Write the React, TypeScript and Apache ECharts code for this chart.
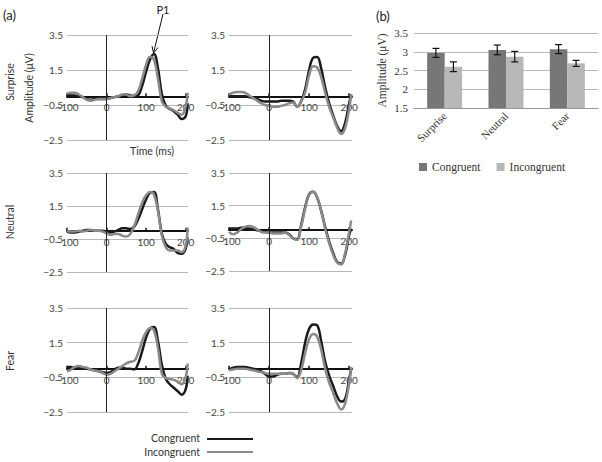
import React, { useEffect, useRef } from 'react';
import * as echarts from 'echarts';

// ---- Data ----
const TIMES = [-100, -90, -80, -70, -60, -50, -40, -30, -20, -10, 0, 10, 20, 30, 40, 50, 60, 70, 80, 90, 100, 110, 120, 130, 140, 150, 160, 170, 180, 190, 200, 205];

const surpriseLeftC = [0.1, 0.05, 0.05, 0.0, -0.05, -0.15, -0.2, -0.15, -0.15, -0.15, -0.15, -0.1, -0.05, 0.0, 0.05, 0.1, 0.05, 0.0, 0.05, 0.6, 1.4, 2.1, 2.42, 1.6, 0.1, -0.55, -0.72, -0.85, -1.05, -1.3, -1.15, -0.4];
const surpriseLeftI = [0.15, 0.2, 0.2, 0.1, -0.05, -0.2, -0.25, -0.2, -0.15, -0.15, -0.15, -0.1, -0.05, 0.0, 0.1, 0.1, 0.0, 0.05, 0.3, 1.0, 1.8, 2.25, 2.1, 1.0, -0.3, -0.6, -0.7, -0.8, -0.95, -1.05, -0.6, 0.2];
const surpriseRightC = [0.0, 0.0, 0.0, 0.0, 0.0, -0.05, -0.1, -0.15, -0.25, -0.3, -0.3, -0.3, -0.3, -0.25, -0.25, -0.25, -0.3, -0.6, -0.3, 0.4, 1.5, 2.2, 2.25, 1.6, 0.5, -0.4, -1.1, -1.7, -2.0, -1.5, -0.4, 0.1];
const surpriseRightI = [0.1, 0.2, 0.25, 0.25, 0.2, 0.05, -0.1, -0.25, -0.4, -0.5, -0.55, -0.6, -0.6, -0.55, -0.5, -0.4, -0.35, -0.6, -0.3, 0.2, 1.2, 1.72, 1.65, 1.1, 0.2, -0.6, -1.2, -1.8, -2.15, -1.8, -0.7, 0.1];
const neutralLeftC = [-0.05, -0.1, -0.1, -0.05, 0.0, 0.05, 0.05, 0.0, 0.0, 0.0, -0.05, -0.1, -0.05, 0.05, 0.15, 0.15, 0.1, 0.25, 0.7, 1.3, 1.9, 2.3, 2.35, 1.3, -0.2, -0.8, -1.0, -1.1, -1.35, -1.4, -1.1, -0.4];
const neutralLeftI = [0.0, -0.05, -0.05, 0.0, -0.05, 0.0, 0.05, 0.0, 0.0, -0.05, -0.15, -0.25, -0.2, -0.2, -0.3, -0.35, -0.2, 0.3, 1.0, 1.7, 2.15, 2.35, 2.2, 1.2, -0.3, -1.0, -1.2, -1.2, -1.2, -1.3, -0.9, 0.2];
const neutralRightC = [0.1, 0.1, 0.1, 0.15, 0.15, 0.1, 0.05, 0.0, -0.05, -0.1, -0.15, -0.15, -0.15, -0.15, -0.15, -0.25, -0.5, -0.55, 0.3, 1.4, 2.2, 2.35, 2.0, 1.2, 0.2, -0.7, -1.4, -1.95, -2.05, -1.5, -0.3, 0.1];
const neutralRightI = [-0.1, -0.25, -0.15, 0.05, 0.2, 0.25, 0.2, 0.05, -0.1, -0.15, -0.15, -0.2, -0.2, -0.2, -0.15, -0.3, -0.5, -0.6, 0.2, 1.3, 2.15, 2.35, 2.0, 1.2, 0.1, -0.8, -1.5, -2.0, -2.1, -1.4, -0.1, 0.6];
const fearLeftC = [0.1, 0.1, 0.05, 0.05, 0.0, 0.0, -0.05, -0.1, -0.15, -0.2, -0.25, -0.2, -0.05, 0.05, 0.05, 0.0, 0.0, -0.05, 0.3, 1.0, 1.8, 2.3, 2.4, 1.6, 0.2, -0.6, -0.9, -1.1, -1.3, -1.5, -1.2, -0.4];
const fearLeftI = [-0.15, -0.05, 0.1, 0.15, 0.1, 0.05, -0.05, -0.1, -0.15, -0.25, -0.35, -0.3, -0.15, 0.0, 0.15, 0.3, 0.4, 0.45, 0.9, 1.6, 2.1, 2.35, 2.2, 1.2, -0.3, -0.55, -0.6, -0.65, -0.75, -0.9, -0.5, 0.3];
const fearRightC = [-0.05, 0.05, 0.1, 0.1, 0.1, 0.05, 0.0, -0.05, -0.15, -0.3, -0.45, -0.45, -0.35, -0.3, -0.3, -0.25, -0.3, -0.5, 0.3, 1.5, 2.3, 2.55, 2.5, 1.6, 0.4, -0.4, -1.0, -1.6, -1.9, -1.75, -0.6, 0.0];
const fearRightI = [-0.1, -0.05, 0.0, 0.0, 0.0, -0.05, -0.1, -0.15, -0.2, -0.25, -0.3, -0.3, -0.3, -0.3, -0.3, -0.25, -0.3, -0.55, -0.1, 0.9, 1.7, 2.0, 1.85, 1.1, 0.0, -0.8, -1.4, -2.0, -2.35, -2.0, -0.8, 0.1];

const ERP_Y_TICKS = [-2.5, -0.5, 1.5, 3.5];
const ERP_X_TICKS = [-100, 0, 100, 200];
const ROW_LABELS = ['Surprise', 'Neutral', 'Fear'];

const BAR_CATEGORIES = ['Surprise', 'Neutral', 'Fear'];
const BAR_CONGRUENT = [2.97, 3.05, 3.07];
const BAR_INCONGRUENT = [2.6, 2.87, 2.69];
const ERR_CONGRUENT = [0.12, 0.13, 0.12];
const ERR_INCONGRUENT = [0.13, 0.14, 0.08];
const LEGEND_NAMES = ['Congruent', 'Incongruent'];

const SANS = 'Lato, "Open Sans", "Noto Sans", sans-serif';
const SERIF = '"Liberation Serif", "DejaVu Serif", serif';

const BLACK = '#1a1a1a';
const GRAY = '#8a8a8a';
const BAR_DARK = '#777777';
const BAR_LIGHT = '#b7b7b7';

const Y_MIN = ERP_Y_TICKS[0];
const Y_MAX = ERP_Y_TICKS[ERP_Y_TICKS.length - 1];

const fmt = (v: number) => String(v).replace('-', '\u2212');

export default function App() {
  const ref = useRef<HTMLDivElement>(null);

  useEffect(() => {
    if (!ref.current) return;
    const chart = echarts.init(ref.current, undefined, { renderer: 'svg' });

    const panels = [
      { C: surpriseLeftC, I: surpriseLeftI, left: 67, top: 35, width: 121, height: 105, max: 206 },
      { C: surpriseRightC, I: surpriseRightI, left: 229, top: 35, width: 123, height: 105, max: 207 },
      { C: neutralLeftC, I: neutralLeftI, left: 67, top: 173, width: 121, height: 99, max: 206 },
      { C: neutralRightC, I: neutralRightI, left: 229, top: 173, width: 123, height: 98, max: 207 },
      { C: fearLeftC, I: fearLeftI, left: 67, top: 308, width: 121, height: 104, max: 206 },
      { C: fearRightC, I: fearRightI, left: 229, top: 308, width: 123, height: 104, max: 207 },
    ];

    const grids: any[] = panels.map((p) => ({ left: p.left, top: p.top, width: p.width, height: p.height }));
    grids.push({ left: 414, top: 33, width: 184, height: 75 });

    const xAxes: any[] = panels.map((p, i) => ({
      type: 'value',
      gridIndex: i,
      min: -100,
      max: p.max,
      interval: 100,
      // place the axis (line, ticks, labels) at amplitude 0
      offset: -(p.height * (0 - Y_MIN)) / (Y_MAX - Y_MIN),
      axisLine: { show: true, onZero: false, lineStyle: { color: '#111', width: 2 } },
      axisTick: { show: true, inside: true, length: 3, customValues: ERP_X_TICKS, lineStyle: { color: '#111', width: 1.5 } },
      axisLabel: {
        customValues: ERP_X_TICKS,
        fontFamily: SANS,
        fontSize: 10,
        color: '#444',
        margin: 6,
        formatter: (v: number) => (v % 100 === 0 ? fmt(v) : ''),
      },
      splitLine: { show: false },
    }));
    xAxes.push({
      type: 'category',
      gridIndex: 6,
      data: BAR_CATEGORIES,
      axisLine: { lineStyle: { color: '#999', width: 1 } },
      axisTick: { show: false },
      axisLabel: { rotate: 45, fontFamily: SERIF, fontSize: 11, color: '#333', margin: 6 },
    });

    const yAxes: any[] = panels.map((_, i) => ({
      type: 'value',
      gridIndex: i,
      min: Y_MIN,
      max: Y_MAX,
      interval: 2,
      axisLine: { show: false, onZero: false },
      axisTick: { show: false },
      splitLine: { lineStyle: { color: '#b8b8b8', width: 1 } },
      axisLabel: { fontFamily: SANS, fontSize: 10, color: '#444', margin: 4, formatter: (v: number) => fmt(v) },
    }));
    yAxes.push({
      type: 'value',
      gridIndex: 6,
      min: 1.5,
      max: 3.5,
      interval: 0.5,
      axisLine: { show: false },
      axisTick: { show: false },
      splitLine: { lineStyle: { color: '#b8b8b8', width: 1 } },
      axisLabel: { fontFamily: SERIF, fontSize: 11, color: '#333', margin: 6 },
      name: 'Amplitude (\u03bcV)',
      nameLocation: 'middle',
      nameGap: 26,
      nameTextStyle: { fontFamily: SERIF, fontSize: 11.5, color: '#333' },
    });

    const series: any[] = [];
    const barW = 17.5;
    series.push({
      name: 'Congruent',
      type: 'bar',
      xAxisIndex: 6,
      yAxisIndex: 6,
      data: BAR_CONGRUENT,
      barWidth: barW,
      barGap: '0%',
      itemStyle: { color: BAR_DARK },
    });
    series.push({
      name: 'Incongruent',
      type: 'bar',
      xAxisIndex: 6,
      yAxisIndex: 6,
      data: BAR_INCONGRUENT,
      barWidth: barW,
      barGap: '0%',
      itemStyle: { color: BAR_LIGHT },
    });
    const errSeries = (vals: number[], errs: number[], offset: number) => ({
      type: 'custom',
      xAxisIndex: 6,
      yAxisIndex: 6,
      z: 5,
      silent: true,
      data: vals.map((v, k) => [k, v, errs[k]]),
      renderItem: (_params: any, api: any) => {
        const k = api.value(0);
        const v = api.value(1);
        const e = api.value(2);
        const hi = api.coord([k, v + e]);
        const lo = api.coord([k, v - e]);
        const cx = hi[0] + offset;
        const cap = 3.5;
        const style = { stroke: '#111', lineWidth: 1.2 };
        return {
          type: 'group',
          children: [
            { type: 'line', shape: { x1: cx, y1: hi[1], x2: cx, y2: lo[1] }, style },
            { type: 'line', shape: { x1: cx - cap, y1: hi[1], x2: cx + cap, y2: hi[1] }, style },
            { type: 'line', shape: { x1: cx - cap, y1: lo[1], x2: cx + cap, y2: lo[1] }, style },
          ],
        };
      },
    });
    series.push(errSeries(BAR_CONGRUENT, ERR_CONGRUENT, -barW / 2));
    series.push(errSeries(BAR_INCONGRUENT, ERR_INCONGRUENT, barW / 2));

    panels.forEach((p, i) => {
      series.push({
        name: `${ROW_LABELS[Math.floor(i / 2)]} congruent ${i % 2}`,
        type: 'line',
        xAxisIndex: i,
        yAxisIndex: i,
        data: TIMES.map((t, k) => [t, p.C[k]]),
        showSymbol: false,
        symbol: 'none',
        smooth: 0.4,
        z: 3,
        lineStyle: { color: BLACK, width: 2.5 },
        markLine: {
          silent: true,
          symbol: ['none', 'none'],
          label: { show: false },
          lineStyle: { color: '#222', width: 1, type: 'solid' },
          data: [{ xAxis: 0 }],
        },
      });
      series.push({
        name: `${ROW_LABELS[Math.floor(i / 2)]} incongruent ${i % 2}`,
        type: 'line',
        xAxisIndex: i,
        yAxisIndex: i,
        data: TIMES.map((t, k) => [t, p.I[k]]),
        showSymbol: false,
        symbol: 'none',
        smooth: 0.4,
        z: 4,
        lineStyle: { color: GRAY, width: 2.5 },
      });
    });

    // P1 arrow geometry (annotation)
    const tail = [163, 14];
    const tip = [153.5, 53];
    const dx = tail[0] - tip[0];
    const dy = tail[1] - tip[1];
    const len = Math.hypot(dx, dy);
    const ux = dx / len;
    const uy = dy / len;
    const ah = 7;
    const ang = 0.45;
    const rot = (a: number) => [
      tip[0] + ah * (ux * Math.cos(a) - uy * Math.sin(a)),
      tip[1] + ah * (ux * Math.sin(a) + uy * Math.cos(a)),
    ];
    const h1 = rot(ang);
    const h2 = rot(-ang);

    const rowCenters = [82, 222, 361];

    const graphic: any[] = [
      { type: 'text', left: 3, top: 8, style: { text: '(a)', fontFamily: SANS, fontSize: 13, fill: '#222' } },
      { type: 'text', left: 376, top: 9, style: { text: '(b)', fontFamily: SANS, fontSize: 13, fill: '#222' } },
      { type: 'text', x: 163, y: 9, style: { text: 'P1', fontFamily: SANS, fontSize: 11, fill: '#222', align: 'center', verticalAlign: 'middle' } },
      { type: 'line', shape: { x1: tail[0], y1: tail[1], x2: tip[0], y2: tip[1] }, style: { stroke: '#111', lineWidth: 1 } },
      { type: 'polyline', shape: { points: [h1, tip, h2] }, style: { stroke: '#111', lineWidth: 1, fill: null } },
      { type: 'text', x: 152, y: 151, style: { text: 'Time (ms)', fontFamily: SANS, fontSize: 10.5, fill: '#333', align: 'center', verticalAlign: 'middle' } },
      { type: 'text', x: 29, y: 88, rotation: Math.PI / 2, style: { text: 'Amplitude (\u03bcV)', fontFamily: SANS, fontSize: 10.5, fill: '#333', align: 'center', verticalAlign: 'middle' } },
      ...ROW_LABELS.map((r, i) => ({
        type: 'text',
        x: 10,
        y: rowCenters[i],
        rotation: Math.PI / 2,
        style: { text: r, fontFamily: SANS, fontSize: 10.5, fill: '#333', align: 'center', verticalAlign: 'middle' },
      })),
      { type: 'text', x: 200, y: 438, style: { text: LEGEND_NAMES[0], fontFamily: SANS, fontSize: 10.5, fill: '#333', align: 'right', verticalAlign: 'middle' } },
      { type: 'text', x: 200, y: 452, style: { text: LEGEND_NAMES[1], fontFamily: SANS, fontSize: 10.5, fill: '#333', align: 'right', verticalAlign: 'middle' } },
      { type: 'line', shape: { x1: 207, y1: 439, x2: 253, y2: 439 }, style: { stroke: BLACK, lineWidth: 2.2 } },
      { type: 'line', shape: { x1: 207, y1: 452, x2: 253, y2: 452 }, style: { stroke: GRAY, lineWidth: 2.2 } },
    ];

    chart.setOption({
      animation: false,
      backgroundColor: '#ffffff',
      grid: grids,
      xAxis: xAxes,
      yAxis: yAxes,
      series,
      legend: {
        data: LEGEND_NAMES,
        left: 414,
        top: 156,
        icon: 'rect',
        itemWidth: 8,
        itemHeight: 8,
        itemGap: 16,
        selectedMode: false,
        textStyle: { fontFamily: SERIF, fontSize: 11.5, color: '#333' },
      },
      graphic,
    });

    return () => {
      chart.dispose();
    };
  }, []);

  return (
    <div
      ref={ref}
      style={{ position: 'fixed', left: 0, top: 0, width: 602, height: 462, background: '#fff' }}
    />
  );
}
